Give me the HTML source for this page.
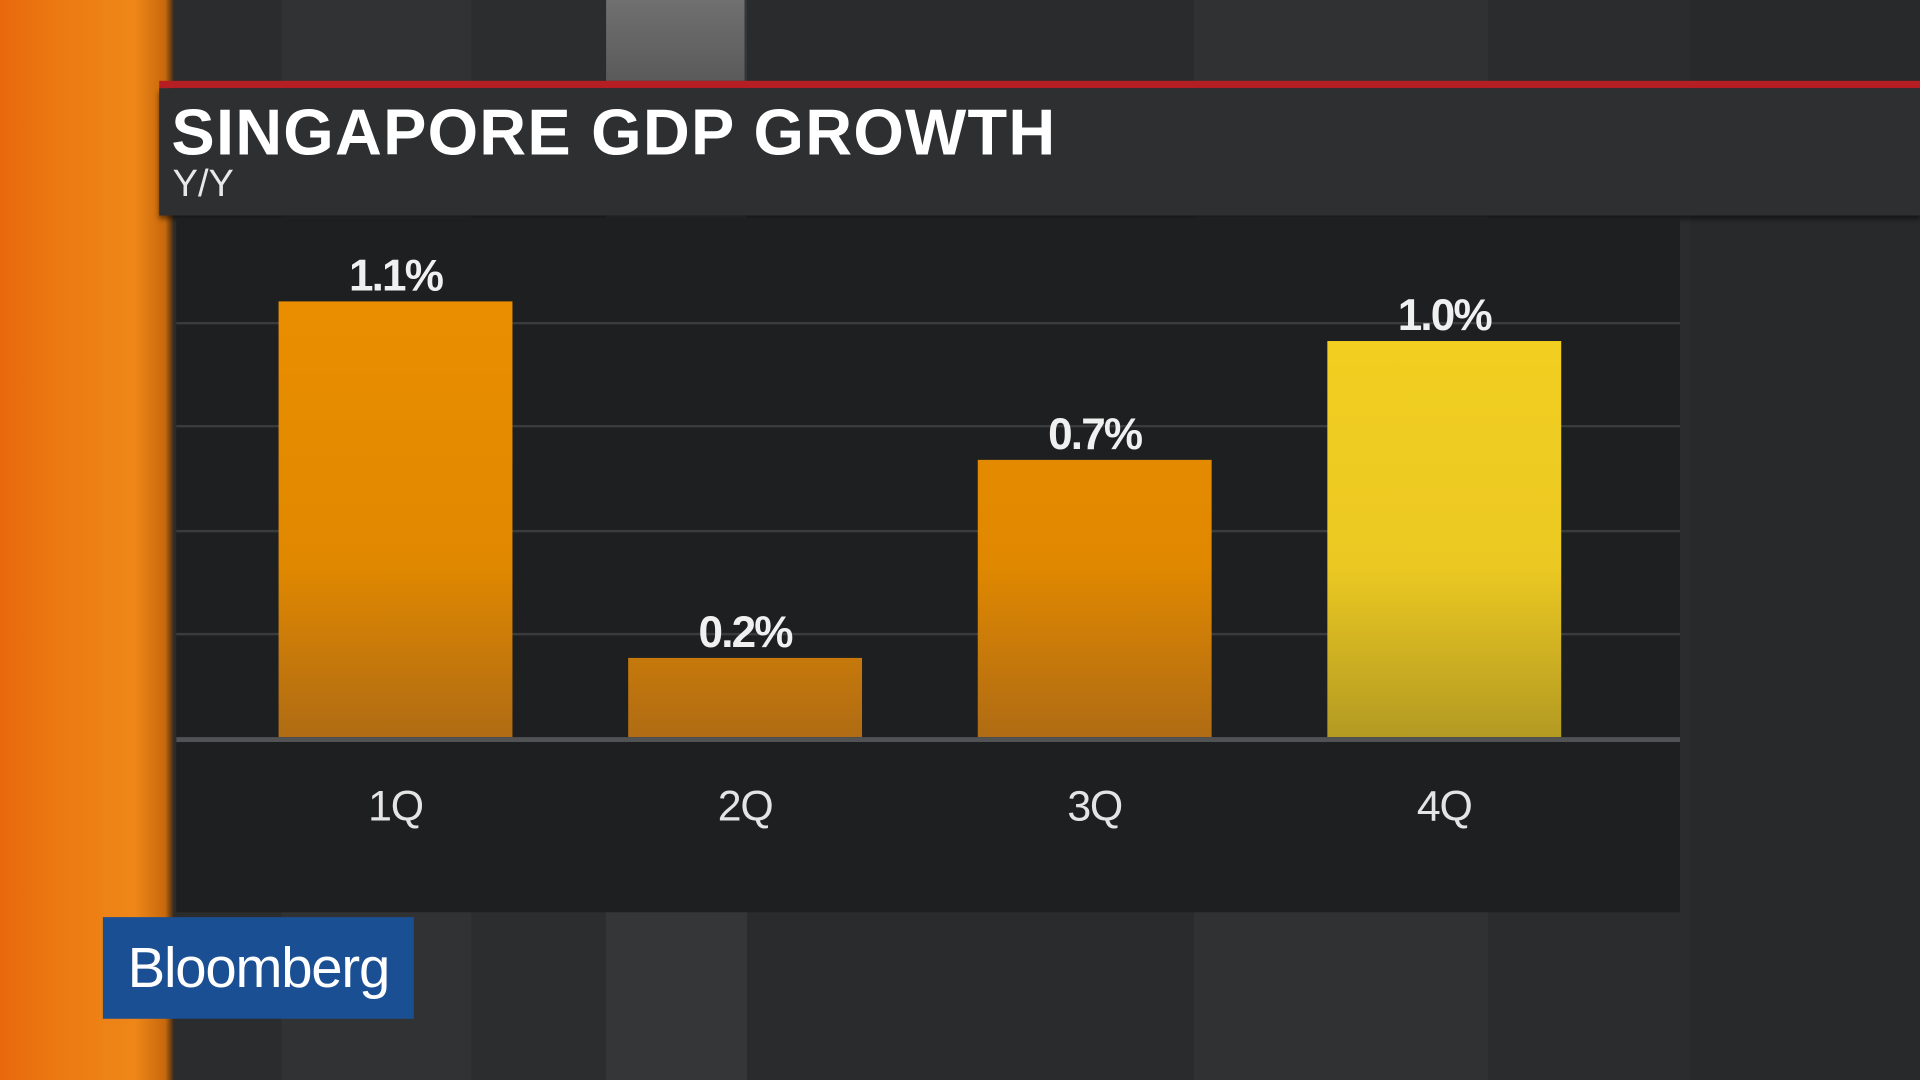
<!DOCTYPE html>
<html><head><meta charset="utf-8"><style>
html,body{margin:0;padding:0;width:1920px;height:1080px;overflow:hidden;background:#2a2b2c;}
#stage{position:absolute;left:0;top:0;width:1568px;height:882px;transform:scale(1.22449);transform-origin:0 0;font-family:"Liberation Sans",sans-serif;
background:linear-gradient(90deg,#2b2c2d 0,#2b2c2d 230px,#313233 230px,#313233 385px,#2c2d2e 385px,#2c2d2e 495px,#353637 495px,#353637 610px,#2a2b2c 610px,#2a2b2c 975px,#303132 975px,#303132 1215px,#2b2c2d 1215px,#2b2c2d 1380px,#28292a 1380px);}
.abs{position:absolute;}
</style></head><body>
<div id="stage">
  <div class="abs" style="left:495px;top:0;width:113px;height:66px;background:linear-gradient(#707070,#5a5a5a);"></div>
  <div class="abs" style="left:0;top:0;width:142px;height:882px;background:linear-gradient(90deg,#e9680c 0,#ec7a12 50px,#ee8718 110px,#c8680c 135px,#3a2a1a 142px);"></div>
  <div class="abs" style="left:130px;top:66px;width:1438px;height:6px;background:#b51f24;"></div>
  <div class="abs" style="left:130px;top:72px;width:1438px;height:104px;background:#2d2f31;box-shadow:0 3px 4px rgba(0,0,0,.5);"></div>
  <div class="abs" style="left:140px;top:80px;font-size:53px;font-weight:bold;color:#fff;line-height:58px;letter-spacing:1px;">SINGAPORE GDP GROWTH</div>
  <div class="abs" style="left:141px;top:133px;font-size:31px;color:#e8e8e8;line-height:34px;">Y/Y</div>
  <div class="abs" style="left:144px;top:178px;width:1228px;height:567px;background:#1e1f21;"></div>
  <svg class="abs" id="chart" style="left:0;top:0;" width="1568" height="882"></svg>
  <div class="abs" style="left:84px;top:749px;width:254px;height:83px;background:#1b4f93;color:#fff;font-size:46px;line-height:83px;text-align:center;letter-spacing:-1px;">Bloomberg</div>
</div>
<script>
const categories = ["1Q","2Q","3Q","4Q"];
const values = [1.1,0.2,0.7,1.0];
const valueLabels = ["1.1%","0.2%","0.7%","1.0%"];
const gridTicks = [0.26,0.52,0.785,1.045];
const NS="http://www.w3.org/2000/svg";
const svg=document.getElementById('chart');
const y0=602, pxPerUnit=323.5;
function yScale(v){return y0-v*pxPerUnit;}
function xCenter(i){return 323+i*285.5;}
const barW=191;
function mk(tag,attrs){const e=document.createElementNS(NS,tag);for(const k in attrs)e.setAttribute(k,attrs[k]);svg.appendChild(e);return e;}
const defs=document.createElementNS(NS,'defs');svg.appendChild(defs);
gridTicks.forEach(t=>{
  const l=mk('line',{x1:144,x2:1372,y1:yScale(t),y2:yScale(t),stroke:'#3a3b3d','stroke-width':2});
  
  
});
values.forEach((v,i)=>{
  const top=yScale(v);
  const gid='g'+i;
  const yellow=i===3;
  const g=document.createElementNS(NS,'linearGradient');
  g.setAttribute('id',gid);g.setAttribute('gradientUnits','userSpaceOnUse');
  g.setAttribute('x1',0);g.setAttribute('x2',0);g.setAttribute('y1',250);g.setAttribute('y2',y0);
  g.innerHTML=yellow?'<stop offset="0" stop-color="#f2cf20"/><stop offset="0.6" stop-color="#ecc922"/><stop offset="1" stop-color="#b39a22"/>':'<stop offset="0" stop-color="#ea8e00"/><stop offset="0.6" stop-color="#e08800"/><stop offset="1" stop-color="#b06c14"/>';
  defs.appendChild(g);
  const r=mk('rect',{x:xCenter(i)-barW/2,y:top,width:barW,height:y0-top,fill:'url(#'+gid+')'});
  
  
  const t=mk('text',{x:xCenter(i),y:top-9,'text-anchor':'middle','font-size':36,'font-weight':'bold',fill:'#f0f0f0','font-family':'Liberation Sans, sans-serif','letter-spacing':'-1.5'});
  t.textContent=valueLabels[i];
  
  
  const c=mk('text',{x:xCenter(i),y:670,'text-anchor':'middle','font-size':35,fill:'#e4e4e4','font-family':'Liberation Sans, sans-serif','letter-spacing':'-1'});
  c.textContent=categories[i];
  
  
});
const base=mk('line',{x1:144,x2:1372,y1:y0+2,y2:y0+2,stroke:'#505254','stroke-width':4});


</script>
</body></html>
